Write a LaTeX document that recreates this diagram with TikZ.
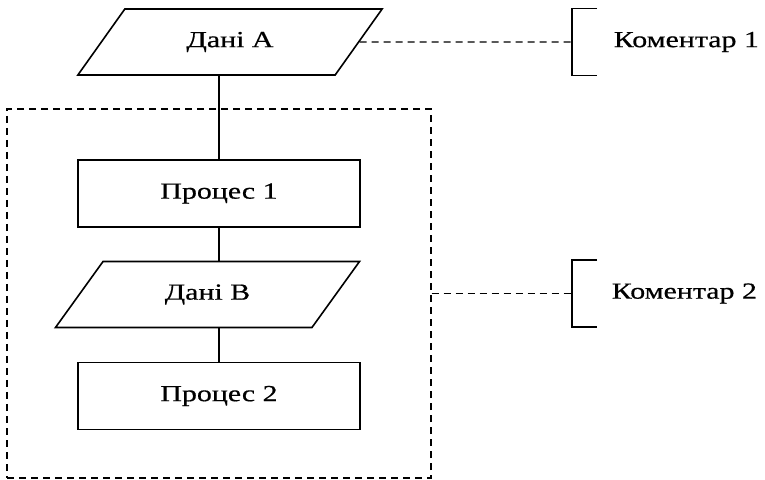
\documentclass[tikz,border=0pt]{standalone}
\usepackage{fontspec}
\setmainfont{Liberation Serif}[FakeStretch=1.3, FakeBold=0.6]
\usetikzlibrary{shapes.geometric}

\tikzset{
  procbox/.style={draw, rectangle, minimum width=141pt, minimum height=33.5pt, inner sep=0pt},
  databox/.style={draw, trapezium, trapezium left angle=46, trapezium right angle=134,
    trapezium stretches=true, minimum width=153pt, minimum height=33pt, inner sep=0pt},
  note/.style={anchor=west, inner sep=0pt},
  dashlink/.style={line width=0.7pt, dash pattern=on 3.5pt off 2.5pt},
}

\begin{document}
\begin{tikzpicture}[x=0.5pt, y=-0.5pt, font=\fontsize{11.5}{13}\selectfont, line width=0.8pt]
    \useasboundingbox (0,0) rectangle (765,480);

    % group frame
    \node[draw, dashlink, minimum width=212pt, minimum height=184.5pt] (grp) at (219,293.5) {};

    % flow
    \node[databox] (dA) at (230,42) {Дані А};
    \node[procbox] (p1) at (219,193.5) {Процес 1};
    \node[databox] (dB) at (207.5,294.5) {Дані В};
    \node[procbox] (p2) at (219,396) {Процес 2};
    \draw (p1.north |- dA.south) -- (p1.north);
    \draw (p1.south) -- (p1.south |- dB.north);
    \draw (p2.north |- dB.south) -- (p2.north);

    % comments
    \coordinate (k1) at (572,42);
    \draw[dashlink] (dA.east) -- (k1);
    \draw (k1) ++(25,-33.5) -- ++(-25,0) -- ++(0,67) -- ++(25,0);
    \node[note] (c1) at (613,42) {Коментар 1};

    \coordinate (k2) at (572,293.5);
    \draw[dashlink] (grp.east) -- (k2);
    \draw (k2) ++(25,-33.5) -- ++(-25,0) -- ++(0,67) -- ++(25,0);
    \node[note] (c2) at (611,293.5) {Коментар 2};
\end{tikzpicture}
\end{document}
